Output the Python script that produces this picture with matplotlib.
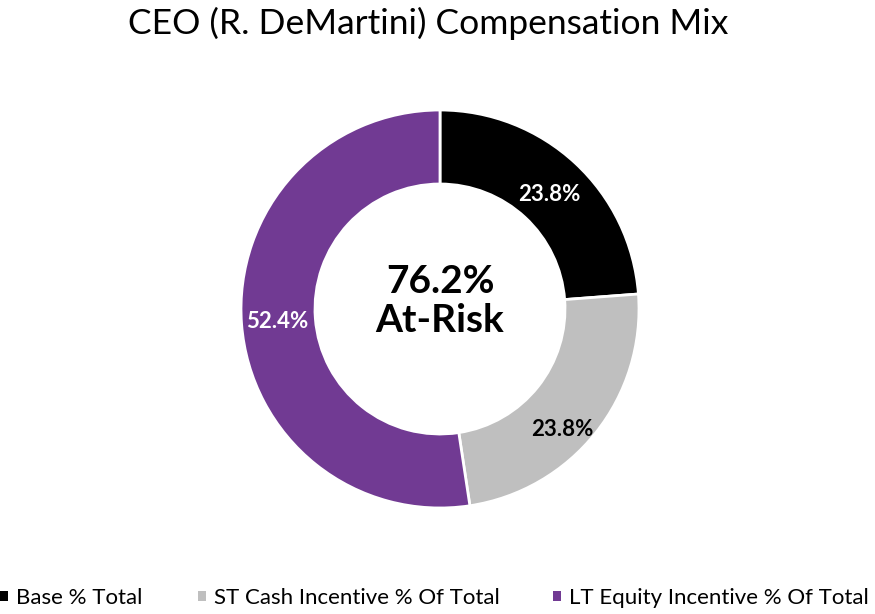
import matplotlib
matplotlib.use("Agg")
import matplotlib.pyplot as plt
from matplotlib.patches import Patch

categories = ["Base % Total", "ST Cash Incentive % Of Total", "LT Equity Incentive % Of Total"]
values = [23.8, 23.8, 52.4]
colors = ["#000000", "#bfbfbf", "#713a93"]
label_colors = ["white", "black", "white"]
title = "CEO (R. DeMartini) Compensation Mix"
center_text = "76.2%\nAt-Risk"

plt.rcParams['font.family'] = ['Lato', 'DejaVu Sans']

fig = plt.figure(figsize=(8.75, 6.14), dpi=100)
# donut center at (440,309) px, outer radius ~199 px
ax = fig.add_axes([(440 - 205) / 875, 1 - (309 + 205) / 614, 410 / 875, 410 / 614])
wedges, texts, autotexts = ax.pie(
    values, colors=colors, startangle=90, counterclock=False,
    radius=199 / 205, autopct=lambda p: f"{p:.1f}%", pctdistance=0.82,
    wedgeprops=dict(width=74 / 205, edgecolor="white", linewidth=2),
    textprops=dict(fontsize=16, fontweight="bold"))
# small nudges to match label placement of the reference
nudges = [(-0.01, -0.025), (-0.025, -0.09), (0.0, 0.0)]
for t, c, (dx, dy) in zip(autotexts, label_colors, nudges):
    t.set_color(c)
    x, y = t.get_position()
    t.set_position((x + dx, y + dy))
ax.set_xlim(-1, 1)
ax.set_ylim(-1, 1)
ax.set_aspect("equal")
ax.axis("off")
ax.text(0, 0.04, center_text, ha="center", va="center", fontsize=28,
        fontweight="bold", linespacing=1.15)

fig.text(428 / 875, 1 - 23 / 614, title, ha="center", va="center", fontsize=25.5)

# legend entries placed like the reference
legend_x = [0 / 875, 198 / 875, 553 / 875]
for c, lab, x in zip(colors, categories, legend_x):
    fig.legend([Patch(facecolor=c, edgecolor="none")], [lab], loc="center left",
               bbox_to_anchor=(x, 1 - 598 / 614), frameon=False,
               borderpad=0, borderaxespad=0,
               handlelength=0.36, handleheight=0.36, handletextpad=0.36,
               prop=dict(size=16))
fig.savefig("out.png", dpi=100)
